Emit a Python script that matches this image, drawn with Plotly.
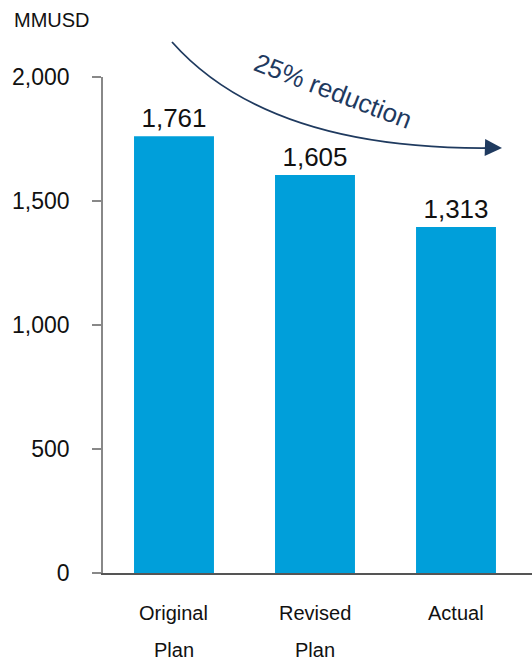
import plotly.graph_objects as go

categories = ["Original Plan", "Revised Plan", "Actual"]
label_line1 = ["Original", "Revised", "Actual"]
label_line2 = ["Plan", "Plan", ""]
bar_values = [1761, 1605, 1395]
bar_labels = ["1,761", "1,605", "1,313"]
y_ticks = [0, 500, 1000, 1500, 2000]
y_tick_text = ["0", "500", "1,000", "1,500", "2,000"]

W, H = 532, 662
ML, MR, MT, MB = 103, 0, 77, 89
PW, PH = W - ML - MR, H - MT - MB

def px(x):
    return (x - ML) / PW

def py(y):
    return (H - MB - y) / PH

FONT = "Liberation Sans, Arial, Helvetica, sans-serif"
NAVY = "#1f3a5f"

fig = go.Figure()
fig.add_trace(go.Bar(
    x=[0, 1, 2], y=bar_values, width=0.567,
    marker=dict(color="#009FDA", line=dict(width=0)),
    text=bar_labels, textposition="outside", cliponaxis=False,
    textfont=dict(size=26, color="#111111", family=FONT),
    hoverinfo="skip",
))

annotations = []
for i, (a, b) in enumerate(zip(label_line1, label_line2)):
    annotations.append(dict(x=i, y=py(613), xref="x", yref="paper", text=a,
                            yanchor="middle", showarrow=False,
                            font=dict(size=20, color="#111111", family=FONT)))
    if b:
        annotations.append(dict(x=i, y=py(650), xref="x", yref="paper", text=b,
                                yanchor="middle", showarrow=False,
                                font=dict(size=20, color="#111111", family=FONT)))

annotations.append(dict(x=px(12), y=py(20), xref="paper", yref="paper", text="MMUSD",
                        xanchor="left", yanchor="middle", showarrow=False,
                        font=dict(size=20, color="#111111", family=FONT)))
annotations.append(dict(x=px(333), y=py(91), xref="paper", yref="paper", text="25% reduction",
                        textangle=21, showarrow=False, xanchor="center", yanchor="middle",
                        font=dict(size=26, color=NAVY, family=FONT)))
# arrow head
annotations.append(dict(x=px(502), y=py(148), xref="paper", yref="paper", text="",
                        showarrow=True, arrowhead=2, arrowsize=1.9, arrowwidth=1.8,
                        arrowcolor=NAVY, ax=-16, ay=-0.5, standoff=0))

x0, y0 = px(172), py(42)
cx, cy = px(268), py(150)
x1, y1 = px(490), py(148)
shapes = [dict(type="path", xref="paper", yref="paper",
               path=f"M {x0} {y0} Q {cx} {cy} {x1} {y1}",
               line=dict(color=NAVY, width=1.8))]

fig.update_layout(
    width=W, height=H,
    margin=dict(l=ML, r=MR, t=MT, b=MB, pad=0),
    paper_bgcolor="white", plot_bgcolor="white",
    showlegend=False,
    font=dict(family=FONT, color="#111111"),
    xaxis=dict(range=[-0.5035, 2.539], showticklabels=False, ticks="",
               showgrid=False, zeroline=False, showline=True,
               linecolor="#555555", linewidth=1.5, fixedrange=True),
    yaxis=dict(range=[0, 2000], tickvals=y_ticks, ticktext=y_tick_text,
               ticks="outside", ticklen=9, tickcolor="#888888", tickwidth=1.5,
               showgrid=False, zeroline=False, showline=True,
               linecolor="#888888", linewidth=1.5,
               tickfont=dict(size=23, color="#111111", family=FONT),
               ticklabelstandoff=18, fixedrange=True),
    annotations=annotations,
    shapes=shapes,
)

fig.write_html("out.html")
